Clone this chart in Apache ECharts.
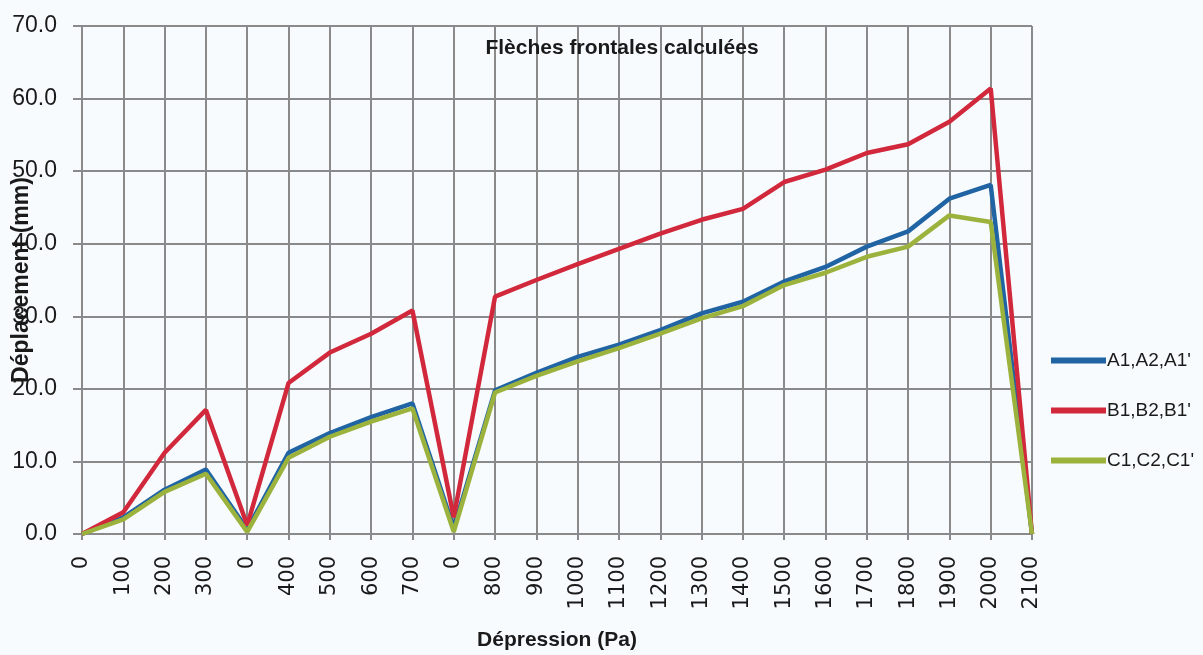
<!DOCTYPE html>
<html>
<head>
<meta charset="utf-8">
<script src="https://cdn.jsdelivr.net/npm/echarts@6/dist/echarts.min.js"></script>
<style>
  html, body { margin: 0; padding: 0; background: #f7fbfd; }
  #main { width: 1203px; height: 655px; }
</style>
</head>
<body>
<div id="main"></div>
<script>
// categories of depression (Pa) as on the chart, with the returns to 0
var categories = ['0', '100', '200', '300', '0', '400', '500', '600', '700', '0',
  '800', '900', '1000', '1100', '1200', '1300', '1400', '1500', '1600', '1700',
  '1800', '1900', '2000', '2100'];

var seriesA = [0, 2.3, 6.1, 8.9, 0.6, 11.2, 13.9, 16.1, 18.0, 0.8,
  19.8, 22.2, 24.4, 26.1, 28.1, 30.4, 32.0, 34.8, 36.8, 39.6, 41.7, 46.2, 48.1, 0];
var seriesB = [0, 3.0, 11.2, 17.1, 1.2, 20.8, 25.0, 27.6, 30.8, 2.3,
  32.7, 35.0, 37.2, 39.3, 41.4, 43.3, 44.8, 48.5, 50.2, 52.5, 53.7, 56.8, 61.4, 0];
var seriesC = [0, 2.0, 5.8, 8.3, 0.3, 10.5, 13.4, 15.5, 17.3, 0.3,
  19.5, 21.8, 23.8, 25.6, 27.6, 29.7, 31.4, 34.3, 36.0, 38.2, 39.6, 43.9, 43.0, 0];

var names = ["A1,A2,A1'", "B1,B2,B1'", "C1,C2,C1'"];
var colors = ['#2064a4', '#d2283c', '#9bb33c'];

var myChart = echarts.init(document.getElementById('main'));

var option = {
  backgroundColor: '#f7fbfd',
  animation: false,
  color: colors,
  title: {
    text: 'Flèches frontales calculées',
    left: 617,
    textAlign: 'center',
    top: 33,
    textStyle: {
      fontFamily: "'Liberation Sans Narrow', 'Liberation Sans', sans-serif",
      fontWeight: 'bold',
      fontSize: 21,
      color: '#1a1a1a'
    }
  },
  legend: {
    orient: 'vertical',
    left: 1046,
    top: 346,
    itemGap: 31,
    itemWidth: 55,
    itemHeight: 6,
    icon: 'rect',
    textStyle: {
      fontFamily: "'Liberation Sans', sans-serif",
      fontSize: 19,
      color: '#1a1a1a',
      padding: [0, 0, 0, -4]
    },
    data: names
  },
  grid: {
    left: 82,
    right: 171,
    top: 26,
    bottom: 121,
    containLabel: false,
    outerBoundsMode: 'none'
  },
  xAxis: {
    type: 'category',
    data: categories,
    boundaryGap: false,
    name: 'Dépression (Pa)',
    nameLocation: 'middle',
    nameGap: 96,
    nameMoveOverlap: false,
    nameTextStyle: {
      fontFamily: "'Liberation Sans Narrow', 'Liberation Sans', sans-serif",
      fontWeight: 'bold',
      fontSize: 21,
      color: '#1a1a1a'
    },
    axisLine: { show: true, lineStyle: { color: '#8a8a8a', width: 2 } },
    axisTick: { show: true, length: 6, alignWithLabel: true, lineStyle: { color: '#8a8a8a', width: 2 } },
    axisLabel: {
      rotate: 90,
      interval: 0,
      margin: 22,
      fontFamily: "'DejaVu Sans', sans-serif",
      fontSize: 21,
      color: '#1a1a1a'
    },
    splitLine: { show: true, lineStyle: { color: '#8a8a8a', width: 2 } }
  },
  yAxis: {
    type: 'value',
    min: 0,
    max: 70,
    interval: 10,
    name: 'Déplacement (mm)',
    nameLocation: 'middle',
    nameGap: 49,
    nameMoveOverlap: false,
    nameTextStyle: {
      fontFamily: "'Liberation Sans Narrow', 'Liberation Sans', sans-serif",
      fontWeight: 'bold',
      fontSize: 23,
      color: '#1a1a1a'
    },
    axisLine: { show: true, lineStyle: { color: '#8a8a8a', width: 2 } },
    axisTick: { show: true, length: 9, lineStyle: { color: '#8a8a8a', width: 2 } },
    axisLabel: {
      margin: 25,
      fontFamily: "'Liberation Sans', sans-serif",
      fontSize: 23,
      color: '#1a1a1a',
      formatter: function (v) { return v.toFixed(1); }
    },
    splitLine: { show: true, lineStyle: { color: '#8a8a8a', width: 2 } }
  },
  series: [
    { name: names[0], type: 'line', data: seriesA, symbol: 'none', lineStyle: { width: 4.5 } },
    { name: names[1], type: 'line', data: seriesB, symbol: 'none', lineStyle: { width: 4.5 } },
    { name: names[2], type: 'line', data: seriesC, symbol: 'none', lineStyle: { width: 4.5 } }
  ]
};

myChart.setOption(option);
</script>
</body>
</html>
